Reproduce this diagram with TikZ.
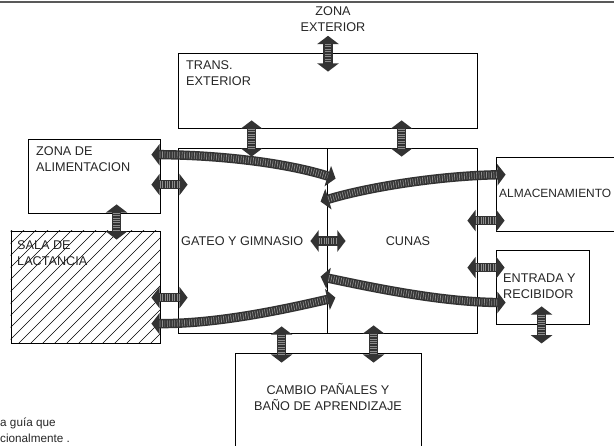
\documentclass[tikz,border=0pt]{standalone}
\usepackage{fontspec}
\setmainfont{Liberation Sans}
\usetikzlibrary{arrows.meta, positioning, calc, fit}

\begin{document}
\begin{tikzpicture}[
    x=0.03cm, y=-0.03cm,
    caja/.style={draw, line width=0.7pt, inner sep=0pt},
    rotulo/.style={inner sep=0pt, align=left, text=black!85,
                   font=\fontsize{10.8}{14}\selectfont},
    flecha/.style={line width=8pt, draw=black!80,
                   {Triangle[width=18pt,length=7pt]}-{Triangle[width=18pt,length=7pt]},
                   postaction={draw=black!45, line width=5.5pt, arrows=-,
                               dash pattern=on 0.6pt off 1.5pt,
                               shorten <=7pt, shorten >=7pt}}
  ]
    \useasboundingbox (0,0) rectangle (614,445);
    \clip (0,0) rectangle (614,445);
    \draw[black!65, line width=1.8pt] (0,2) -- (614,2);

    % cajas
    \node[caja, fit={(178,53) (477,128)}] (trans) {};
    \node[caja, fit={(178,148) (327,333)}] (gateo) {};
    \node[caja, fit={(327,148) (477,333)}] (cunas) {};
    \node[caja, fit={(28,139) (160,213)}] (alim) {};
    \node[caja, fit={(11,231) (160,343)}] (sala) {};
    \node[caja, fit={(496,157) (625,231)}] (almac) {};
    \node[caja, fit={(496,250) (589,324)}] (entrada) {};
    \node[caja, fit={(235,353) (421,460)}] (cambio) {};

    % rayado de la sala
    \begin{scope}
      \clip (sala.north west) rectangle (sala.south east);
      \foreach \i in {-112,-100,...,150}
        \draw[line width=0.5pt] ($(sala.south west)+(\i,0)$) -- ++(115,-115);
    \end{scope}

    % textos
    \node[rotulo, align=center, anchor=north] (zext) at (333,6.5) {ZONA\\EXTERIOR};
    \node[rotulo, anchor=north west] (ttrans) at (186,60.5) {TRANS.\\EXTERIOR};
    \node[rotulo, anchor=north west] (talim) at (36,146.5) {ZONA DE\\ALIMENTACION};
    \node[rotulo, anchor=north west] (tsala) at (17,240.5) {SALA DE\\LACTANCIA};
    \node[rotulo, anchor=west] (tgateo) at (181,241) {GATEO Y GIMNASIO};
    \node[rotulo] (tcunas) at (408,241) {CUNAS};
    \node[rotulo, anchor=west, font=\fontsize{10.2}{13}\selectfont] (talmac) at (499,193)
      {ALMACENAMIENTO};
    \node[rotulo, anchor=north west] (tentrada) at (503,273.5) {ENTRADA Y\\RECIBIDOR};
    \node[rotulo, align=center, anchor=north] (tcambio) at (328,383)
      {CAMBIO PAÑALES Y\\BAÑO DE APRENDIZAJE};
    \node[rotulo, anchor=north west, font=\fontsize{10}{13}\selectfont] (nota) at (0,418)
      {a guía que\\cionalmente .};

    \coordinate (fuera) at ($(entrada.south west)+(46,19)$);

    % flechas rectas
    \draw[flecha] ($(zext.south)+(-5,3.5)$) -- ($(trans.north)+(0.5,19)$);
    \draw[flecha] ($(trans.south west)+(74,-8)$) -- ($(gateo.north west)+(74,9)$);
    \draw[flecha] ($(trans.south west)+(224,-8)$) -- ($(cunas.north west)+(75,9)$);
    \draw[flecha] ($(alim.north east)+(-9,46)$) -- ($(gateo.north west)+(10,37)$);
    \draw[flecha] ($(sala.north east)+(-9,67)$) -- ($(gateo.north west)+(10,150)$);
    \draw[flecha] ($(alim.south west)+(89,-9)$) -- ($(sala.north west)+(106,9)$);
    \draw[flecha] ($(gateo.east)+(-17,0.5)$) -- ($(cunas.west)+(19,0.5)$);
    \draw[flecha] ($(cunas.north east)+(-10,73)$) -- ($(almac.north west)+(9,64)$);
    \draw[flecha] ($(cunas.north east)+(-10,120)$) -- ($(entrada.north west)+(9,18)$);
    \draw[flecha] ($(gateo.south west)+(104,-7)$) -- ($(cambio.north west)+(47,10)$);
    \draw[flecha] ($(cunas.south west)+(47,-8)$) -- ($(cambio.north west)+(139,10)$);
    \draw[flecha] ($(entrada.south west)+(46,-18)$) -- (fuera);

    % flechas curvas
    \draw[flecha] ($(alim.north east)+(-9,16)$) .. controls (220,155) and (287,163)
      .. ($(cunas.north west)+(9,31)$);
    \draw[flecha] ($(cunas.north west)+(-6,54)$) .. controls (365,188) and (435,176)
      .. ($(almac.north west)+(10,18)$);
    \draw[flecha] ($(cunas.north west)+(-6,129)$) .. controls (370,287) and (440,302)
      .. ($(entrada.north west)+(10,53)$);
    \draw[flecha] ($(sala.north east)+(-9,93)$) .. controls (220,324) and (290,308)
      .. ($(gateo.north east)+(8,150)$);
  \end{tikzpicture}
\end{document}
